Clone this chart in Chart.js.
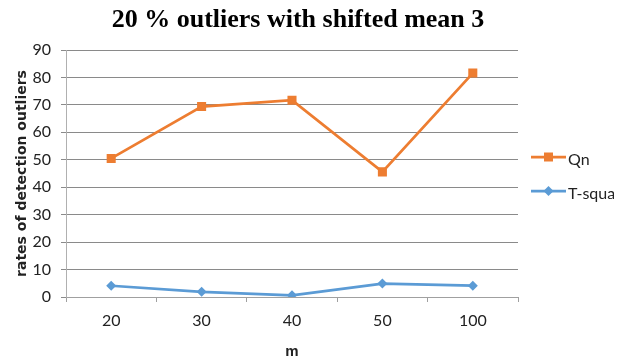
<!DOCTYPE html>
<html>
<head>
<meta charset="utf-8">
<script src="https://cdn.jsdelivr.net/npm/chart.js@4/dist/chart.umd.min.js"></script>
<style>
  html, body { margin: 0; padding: 0; background: #fff; }
  #wrap { position: relative; width: 625px; height: 361px; }
</style>
</head>
<body>
<div id="wrap"><canvas id="c" width="625" height="361"></canvas></div>
<script>
const categories = ['20', '30', '40', '50', '100'];
const qnValues = [50.5, 69.4, 71.7, 45.6, 81.6];
const tsqValues = [4.1, 1.9, 0.6, 4.9, 4.1];
const seriesNames = ['Qn', 'T-square'];
const titleText = '20 % outliers with shifted mean 3';
const yTitle = 'rates of detection outliers';
const xTitle = 'm';

const ORANGE = '#ED7D31';
const BLUE = '#5B9BD5';

const titlePlugin = {
  id: 'customTitle',
  afterDraw(chart) {
    const ctx = chart.ctx;
    ctx.save();
    ctx.font = 'bold 26px "Liberation Serif", "Times New Roman", serif';
    ctx.fillStyle = '#000';
    ctx.textAlign = 'center';
    ctx.textBaseline = 'alphabetic';
    ctx.fillText(titleText, 298, 27);
    ctx.restore();
  }
};

const legendPlugin = {
  id: 'customLegend',
  afterDraw(chart) {
    const ctx = chart.ctx;
    const items = [
      { name: seriesNames[0], color: ORANGE, style: 'rect', y: 157 },
      { name: seriesNames[1], color: BLUE, style: 'diamond', y: 191 }
    ];
    ctx.save();
    items.forEach(it => {
      ctx.strokeStyle = it.color;
      ctx.lineWidth = 2.75;
      ctx.beginPath();
      ctx.moveTo(531, it.y);
      ctx.lineTo(566, it.y);
      ctx.stroke();
      ctx.fillStyle = it.color;
      ctx.beginPath();
      if (it.style === 'rect') {
        ctx.rect(548.5 - 4.5, it.y - 4.5, 9, 9);
      } else {
        ctx.moveTo(548.5, it.y - 5);
        ctx.lineTo(553.5, it.y);
        ctx.lineTo(548.5, it.y + 5);
        ctx.lineTo(543.5, it.y);
        ctx.closePath();
      }
      ctx.fill();
    });
    ctx.beginPath();
    ctx.rect(560, 130, 54, 90);
    ctx.clip();
    items.forEach(it => {
      ctx.fillStyle = '#222';
      ctx.font = '16px Lato, "Open Sans", sans-serif';
      ctx.textAlign = 'left';
      ctx.textBaseline = 'alphabetic';
      ctx.fillText(it.name, 568, it.y + 8);
    });
    ctx.restore();
  }
};

new Chart(document.getElementById('c'), {
  type: 'line',
  data: {
    labels: categories,
    datasets: [
      {
        label: seriesNames[0],
        data: qnValues,
        borderColor: ORANGE,
        backgroundColor: ORANGE,
        borderWidth: 2.75,
        pointStyle: 'rect',
        pointRadius: 6.4,
        pointBorderWidth: 0,
        tension: 0
      },
      {
        label: seriesNames[1],
        data: tsqValues,
        borderColor: BLUE,
        backgroundColor: BLUE,
        borderWidth: 2.75,
        pointStyle: 'rectRot',
        pointRadius: 5,
        pointBorderWidth: 0,
        tension: 0
      }
    ]
  },
  options: {
    responsive: false,
    animation: false,
    layout: { padding: { top: 50, right: 107, left: 0, bottom: 0 } },
    plugins: {
      legend: { display: false },
      title: { display: false },
      tooltip: { enabled: false }
    },
    scales: {
      x: {
        offset: true,
        grid: {
          offset: true,
          drawOnChartArea: false,
          drawTicks: true,
          tickLength: 5,
          color: '#a0a0a0'
        },
        border: { color: '#a0a0a0', width: 1 },
        ticks: {
          color: '#222',
          font: { family: 'Lato, "Open Sans", sans-serif', size: 16 },
          padding: 9,
          maxRotation: 0
        },
        title: {
          display: true,
          text: xTitle,
          color: '#222',
          font: { family: '"Liberation Sans", Arial, sans-serif', size: 15, weight: 'bold' },
          padding: { top: 3, bottom: 0 }
        },
        afterFit(scale) { scale.height = 64; }
      },
      y: {
        min: 0,
        max: 90,
        ticks: {
          stepSize: 10,
          color: '#222',
          font: { family: 'Lato, "Open Sans", sans-serif', size: 16 },
          padding: 10
        },
        grid: {
          color: '#8a8a8a',
          tickLength: 5,
          lineWidth: 1
        },
        border: { color: '#b0b0b0', width: 1 },
        title: {
          display: true,
          text: yTitle,
          color: '#222',
          font: { family: '"DejaVu Sans", sans-serif', size: 14, weight: 'bold' },
          padding: { top: 14, bottom: 0 }
        },
        afterFit(scale) { scale.width = 66; }
      }
    }
  },
  plugins: [titlePlugin, legendPlugin]
});
</script>
</body>
</html>
